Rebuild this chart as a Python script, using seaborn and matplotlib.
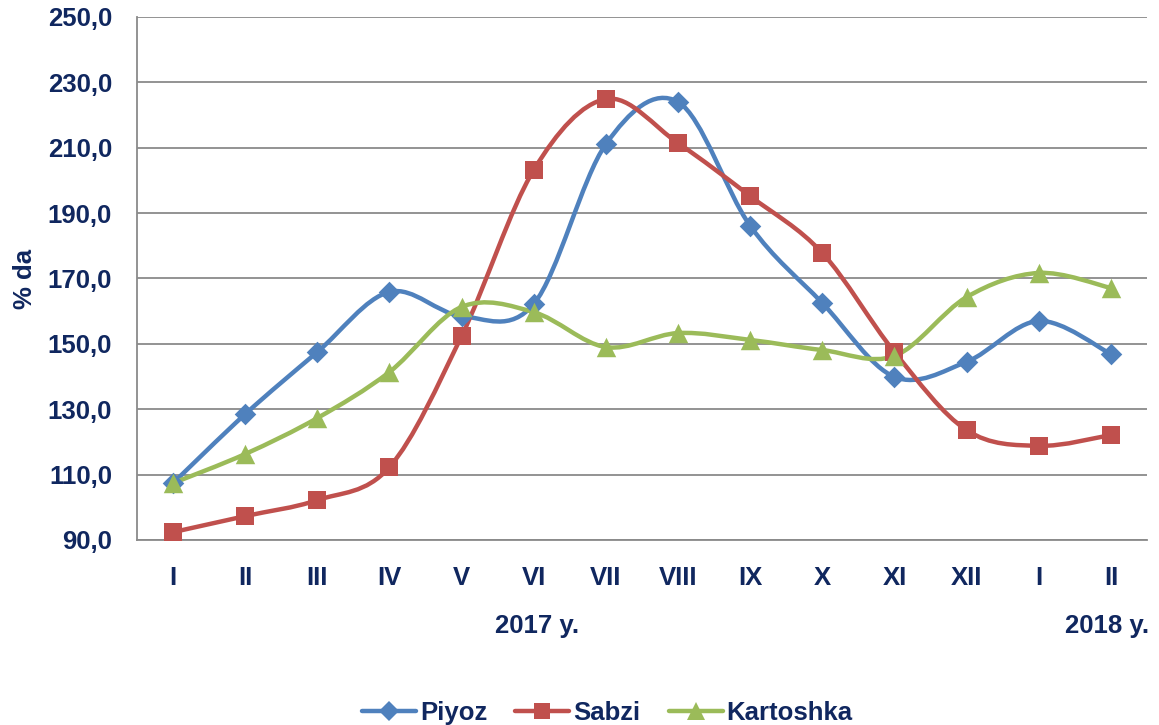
import numpy as np
import pandas as pd
import matplotlib
matplotlib.use("Agg")
import matplotlib.pyplot as plt
import seaborn as sns
from matplotlib.path import Path
from matplotlib.patches import PathPatch
from matplotlib.lines import Line2D
import matplotlib.transforms as mtransforms

# Data
months = ["I", "II", "III", "IV", "V", "VI", "VII", "VIII", "IX", "X", "XI", "XII", "I", "II"]
piyoz = [107.4, 128.5, 147.5, 165.9, 158.5, 162.2, 211.1, 224.0, 186.1, 162.5, 139.9, 144.5, 157.0, 146.9]
sabzi = [92.4, 97.3, 102.2, 112.3, 152.4, 203.2, 224.9, 211.4, 195.2, 177.8, 147.5, 123.6, 118.8, 122.1]
kartoshka = [107.4, 116.3, 127.3, 141.4, 161.3, 159.7, 149.0, 153.3, 151.2, 148.1, 146.3, 164.3, 171.7, 167.1]
series_names = ["Piyoz", "Sabzi", "Kartoshka"]
year_labels = ["2017 y.", "2018 y."]
y_ticks = [90, 110, 130, 150, 170, 190, 210, 230, 250]

COLORS = {"Piyoz": "#4f81bd", "Sabzi": "#c0504d", "Kartoshka": "#9bbb59"}
MARKERS = {"Piyoz": "D", "Sabzi": "s", "Kartoshka": "^"}
MSIZE = {"Piyoz": 11, "Sabzi": 13, "Kartoshka": 14}
TEXT = "#10275f"
GRID = "#8a8a8a"
FS = 18.5

sns.set_style("white")
plt.rcParams["font.family"] = ["Liberation Sans", "DejaVu Sans"]
plt.rcParams["font.weight"] = "bold"

pos = np.arange(len(months))
df = pd.DataFrame({
    "pos": np.tile(pos, 3),
    "value": piyoz + sabzi + kartoshka,
    "series": np.repeat(series_names, len(months)),
})


def smooth_path(x, y):
    # Excel style smoothed line: Catmull-Rom segments as cubic Beziers
    pts = np.column_stack([x, y]).astype(float)
    n = len(pts)
    verts = [pts[0]]
    codes = [Path.MOVETO]
    for i in range(n - 1):
        p0 = pts[max(i - 1, 0)]
        p1 = pts[i]
        p2 = pts[i + 1]
        p3 = pts[min(i + 2, n - 1)]
        c1 = p1 + (p2 - p0) / 6.0
        c2 = p2 - (p3 - p1) / 6.0
        verts += [c1, c2, p2]
        codes += [Path.CURVE4] * 3
    return Path(verts, codes)


fig = plt.figure(figsize=(11.59, 7.25), dpi=100)
ax = fig.add_axes([0.1182, 0.2552, 0.8714, 0.7214])

for name in series_names:
    sub = df[df["series"] == name]
    patch = PathPatch(smooth_path(sub["pos"], sub["value"]), facecolor="none",
                      edgecolor=COLORS[name], lw=3.2, capstyle="round",
                      joinstyle="round", zorder=3)
    ax.add_patch(patch)

for name in series_names:
    sub = df[df["series"] == name]
    sns.scatterplot(data=sub, x="pos", y="value", ax=ax, color=COLORS[name],
                    marker=MARKERS[name], s=MSIZE[name] ** 2, linewidth=0,
                    zorder=4, legend=False)

ax.set_xlim(-0.5, len(months) - 0.5)
ax.set_ylim(90, 250)
ax.set_yticks(y_ticks)
ax.set_yticklabels([f"{v:.1f}".replace(".", ",") for v in y_ticks])
ax.set_xticks(pos)
ax.set_xticklabels(months)
ax.set_xticks(np.arange(-0.5, len(months), 1.0), minor=True)
ax.tick_params(axis="x", which="major", length=0, pad=19, labelsize=FS, labelcolor=TEXT)
ax.tick_params(axis="x", which="minor", length=7, width=1.3, color=GRID, direction="out")
ax.tick_params(axis="y", length=7, width=1.3, color=GRID, direction="out",
               pad=11, labelsize=FS, labelcolor=TEXT)
ax.yaxis.grid(True, color=GRID, lw=1.3)
ax.set_axisbelow(True)
for side in ["top", "right"]:
    ax.spines[side].set_visible(False)
for side in ["left", "bottom"]:
    ax.spines[side].set_color(GRID)
    ax.spines[side].set_linewidth(1.3)
ax.set_xlabel("")
ax.set_ylabel("% da", fontsize=FS, color=TEXT, fontweight="bold", labelpad=7.5)

trans = mtransforms.blended_transform_factory(ax.transData, ax.transAxes)
ax.text(5.05, -0.165, year_labels[0], transform=trans, ha="center", va="center",
        fontsize=FS, color=TEXT, fontweight="bold")
ax.text(12.95, -0.165, year_labels[1], transform=trans, ha="center", va="center",
        fontsize=FS, color=TEXT, fontweight="bold")

handles = [Line2D([0], [0], color=COLORS[n], lw=3.2, marker=MARKERS[n],
                  markersize=MSIZE[n] * 0.9, markeredgewidth=0) for n in series_names]
fig.legend(handles, series_names, loc="center", bbox_to_anchor=(0.524, 0.016),
           ncol=3, frameon=False, fontsize=FS, labelcolor=TEXT,
           handlelength=2.1, handletextpad=0.15, columnspacing=1.1)

fig.savefig("out.png", dpi=100)
